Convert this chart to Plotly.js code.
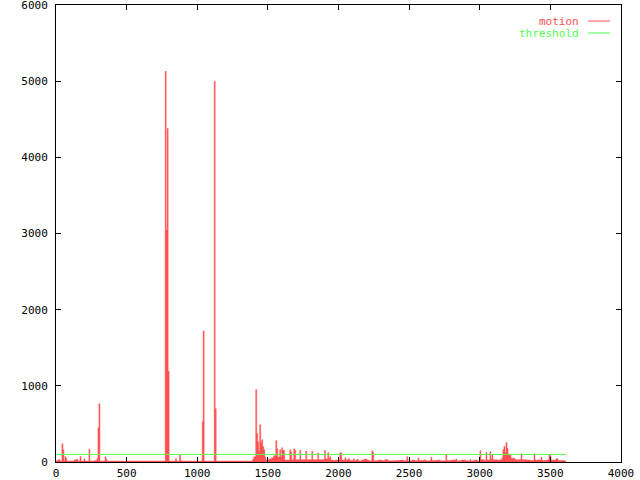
<!DOCTYPE html>
<html>
<head>
<meta charset="utf-8">
<script src="https://cdn.plot.ly/plotly-3.0.1.min.js"></script>
<style>html,body{margin:0;padding:0;background:#fff;}#chart{width:640px;height:480px;}</style>
</head>
<body>
<div id="chart"></div>
<script>
// motion samples (step values)
const motionX = [0, 14, 28, 42, 49, 56, 63, 70, 77, 128, 142, 156, 170, 177, 198, 205, 233, 240, 276, 290, 297, 304, 311, 347, 354, 361,
  773, 780, 787, 794, 801, 846, 853, 875, 882, 889, 1035, 1042, 1049, 1120, 1127, 1134,
  1393, 1400, 1414, 1421, 1428, 1435, 1442, 1449, 1456, 1463, 1471, 1478, 1485, 1506, 1527, 1541, 1556, 1563, 1570, 1584, 1591, 1598, 1605, 1619,
  1655, 1662, 1669, 1683, 1690, 1697, 1726, 1733, 1768, 1775, 1811, 1818, 1853, 1860, 1900, 1907, 1924, 1931, 1938, 1945, 1960, 1974,
  2009, 2023, 2045, 2052, 2066, 2080, 2106, 2113, 2130, 2140, 2165, 2180, 2190, 2200, 2215, 2236, 2243, 2250, 2280, 2300, 2330, 2350, 2400, 2440, 2460,
  2484, 2491, 2520, 2540, 2562, 2569, 2600, 2620, 2654, 2661, 2700, 2720, 2760, 2767, 2800, 2831, 2838, 2870, 2900, 2930, 2937, 2960, 2980,
  3001, 3008, 3030, 3044, 3051, 3072, 3079, 3086, 3093, 3122, 3143, 3157, 3164, 3171, 3179, 3186, 3193, 3200, 3207, 3214, 3221, 3249,
  3292, 3299, 3330, 3360, 3384, 3391, 3434, 3441, 3470, 3490, 3497, 3504, 3540, 3554, 3590, 3611];
const motionY = [15, 30, 12, 240, 160, 12, 70, 50, 12, 26, 34, 12, 73, 12, 43, 12, 165, 12, 20, 47, 450, 764, 12, 69, 35, 12,
  5130, 3045, 4380, 1190, 12, 43, 12, 96, 20, 12, 532, 1721, 12, 4997, 699, 12,
  40, 70, 948, 371, 266, 139, 489, 257, 292, 205, 161, 65, 25, 39, 56, 83, 279, 174, 65, 161, 65, 187, 152, 25,
  161, 131, 30, 174, 152, 30, 152, 30, 144, 30, 144, 30, 118, 30, 152, 40, 122, 45, 70, 25, 20, 25,
  122, 25, 56, 25, 40, 20, 43, 20, 35, 15, 25, 35, 40, 25, 15, 148, 122, 15, 25, 20, 30, 15, 20, 25, 15,
  70, 15, 25, 15, 52, 20, 25, 15, 61, 20, 25, 15, 105, 20, 25, 40, 15, 25, 15, 30, 15, 25, 15,
  148, 30, 20, 126, 25, 135, 40, 100, 30, 25, 30, 60, 161, 205, 122, 257, 179, 109, 87, 96, 50, 30,
  109, 30, 25, 20, 109, 25, 61, 20, 25, 96, 83, 25, 43, 20, 15, 15];
const thresholdX = [0, 3609];
const thresholdY = [100, 100];
const seriesNames = ['motion', 'threshold'];
const seriesColors = ['rgb(255,80,80)', 'rgb(80,255,80)'];
const xTicks = [0, 500, 1000, 1500, 2000, 2500, 3000, 3500, 4000];
const yTicks = [0, 1000, 2000, 3000, 4000, 5000, 6000];

const FONT = 'DejaVu Sans Mono, Liberation Mono, monospace';

const traces = [
  {x: motionX, y: motionY, type: 'scatter', mode: 'lines', line: {shape: 'hv', width: 0.5, color: seriesColors[0]},
   fill: 'tozeroy', fillcolor: seriesColors[0], name: seriesNames[0], showlegend: false, hoverinfo: 'skip'},
  {x: thresholdX, y: thresholdY, type: 'scatter', mode: 'lines', line: {width: 1, color: seriesColors[1]},
   name: seriesNames[1], showlegend: false, hoverinfo: 'skip'}
];

const axisCommon = {showgrid: false, zeroline: false, showline: true, linecolor: '#000', linewidth: 1,
  mirror: 'ticks', ticks: 'inside', ticklen: 5, tickwidth: 1, tickcolor: '#000',
  ticklabeloverflow: 'allow',
  tickfont: {family: FONT, size: 11, color: '#000'}};

const legendY = [0.965, 0.9387];
const annotations = seriesNames.map((n, i) => ({
  xref: 'paper', yref: 'paper', x: 0.927, y: legendY[i], xanchor: 'right', yanchor: 'middle',
  height: 10, valign: 'middle', borderpad: 0,
  text: n, showarrow: false, font: {family: FONT, size: 11, color: seriesColors[i]}
}));
const shapes = seriesNames.map((n, i) => ({
  type: 'line', xref: 'paper', yref: 'paper', x0: 0.9415, x1: 0.9805, y0: legendY[i], y1: legendY[i],
  line: {color: seriesColors[i], width: 1}
}));

const layout = {
  width: 640, height: 480,
  margin: {l: 56, r: 19, t: 5, b: 18, pad: 0},
  paper_bgcolor: '#fff', plot_bgcolor: '#fff',
  showlegend: false,
  xaxis: Object.assign({}, axisCommon, {range: [0, 4000], tickvals: xTicks, ticktext: xTicks.map(String), ticklabelstandoff: 1}),
  yaxis: Object.assign({}, axisCommon, {range: [0, 6000], tickvals: yTicks, ticktext: yTicks.map(String), ticklabelstandoff: 5}),
  annotations: annotations,
  shapes: shapes
};

Plotly.newPlot('chart', traces, layout, {staticPlot: true, displayModeBar: false});
</script>
</body>
</html>
